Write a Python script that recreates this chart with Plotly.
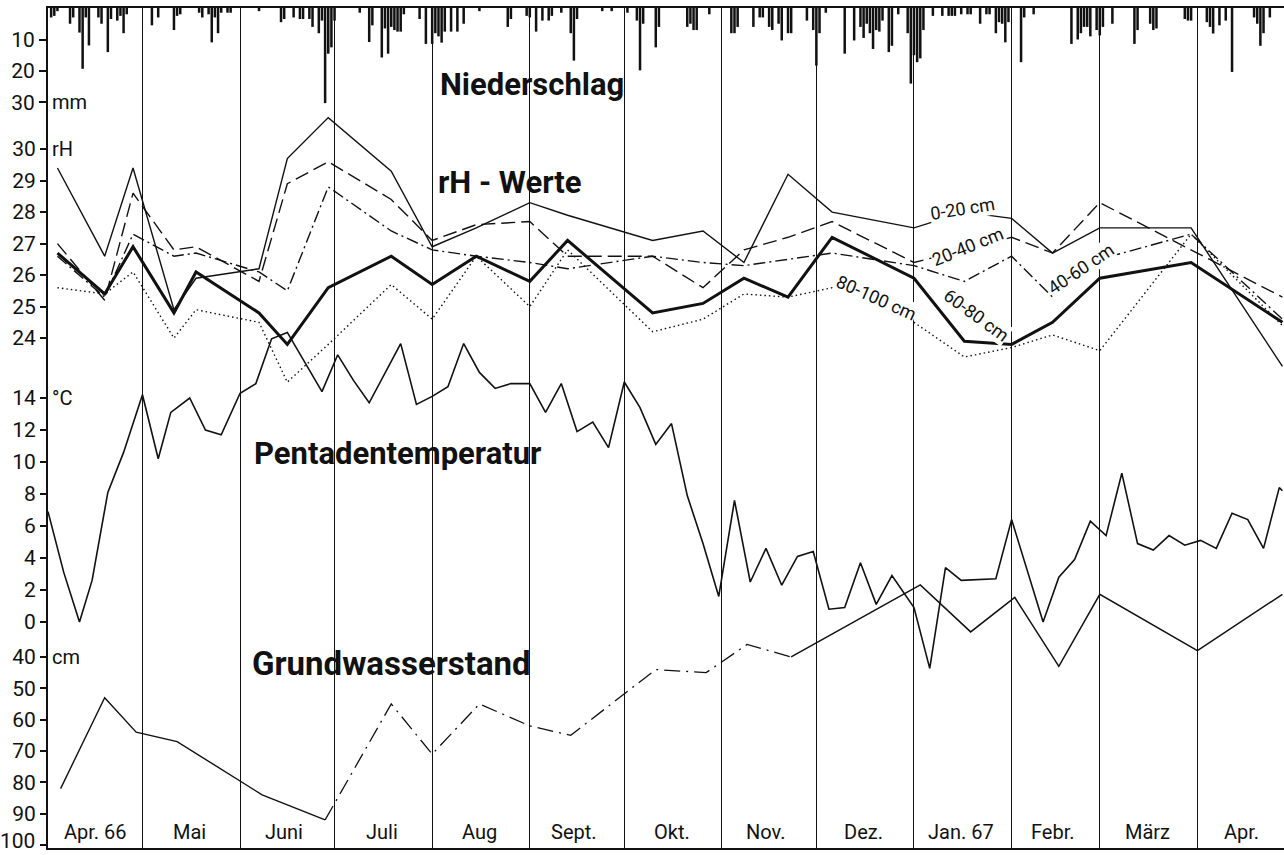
import pandas as pd
import plotly.graph_objects as go

START = pd.Timestamp("1966-04-01")

# Niederschlag: Tag (ab 1.4.1966) und Tagessumme in mm
rain_day = [1, 2, 3, 7, 8, 10, 11, 12, 13, 16, 17, 19, 20, 22, 23, 24, 25,
            33, 35, 40, 41, 42, 48, 49, 51, 52, 53, 54, 55, 57, 58,
            67, 74, 75, 78, 80, 81, 83, 84, 86, 87, 88, 89, 90, 91,
            99, 102, 103, 106, 107, 108, 109, 110, 111, 112, 113, 118, 120,
            122, 123, 124, 125, 126, 128, 130, 132, 137, 146, 147, 152, 153, 155, 157, 159, 160,
            163, 166, 167, 168, 176, 179, 184, 187, 188, 189, 193, 194,
            203, 204, 205, 206, 210, 217, 218, 219, 224, 226, 227, 229, 230, 232, 233, 235, 236,
            241, 243, 244, 245, 247, 253, 256,
            258, 259, 260, 261, 262, 263, 264, 265, 267, 268, 270, 273, 274, 275, 276, 277, 278,
            281, 284, 286, 287, 288, 290, 292, 293, 296, 298, 299, 301, 302, 303, 304, 305, 309, 310, 313,
            325, 327, 328, 329, 330, 331, 333, 334, 335,
            338, 345, 346, 350, 351, 352, 361, 362, 363, 368, 369, 370, 372, 374, 376,
            383, 384, 385, 386, 388]
rain_mm = [3, 2.5, 1, 5, 3, 7.8, 19.3, 3, 11.9, 3, 5, 14, 3.5, 4, 2.5, 8, 2,
           5.5, 3, 7, 2.5, 2, 1.5, 3, 2, 10.9, 3, 8, 1.5, 1.5, 1.5,
           1, 4.5, 3.5, 3, 3.5, 3.5, 3.5, 6, 8, 4, 30.2, 14.5, 12.5, 4,
           1.5, 10.8, 5.5, 15.7, 6.5, 14.5, 6, 7, 7.5, 7.5, 2, 3.5, 11.4,
           11.4, 8, 9, 11, 7.5, 7.5, 7.5, 5, 1, 6, 3.5, 2.5, 3, 7.5, 4, 4, 2.5,
           1.5, 8, 16.7, 3.5, 1, 1, 1.5, 4, 19.8, 5, 12.5, 6,
           6, 5, 7, 7, 2, 8, 8, 6, 6, 3, 3, 6, 7, 5, 10.3, 8, 8,
           4, 7, 18.3, 8, 1.5, 14.5, 10.3,
           6, 9.5, 5, 8, 13, 7, 7.5, 4, 14, 12, 2, 8, 24, 15, 17.2, 16, 7,
           2.5, 2.5, 2.5, 2.5, 2.5, 2, 2, 2, 5, 2, 2, 8, 4.5, 5, 10.9, 4.5, 17.2, 3, 2,
           11.4, 10, 8, 6, 6, 9, 7, 8.7, 6,
           5, 11.4, 7, 5, 7, 6.5, 3.5, 4, 4, 4.5, 6, 8.1, 5.5, 4, 20.3,
           3, 5, 12, 8, 3]
rain_dates = [START + pd.Timedelta(days=d) for d in rain_day]

# rH-Werte je Tiefenstufe
rh_dates = ["1966-04-04", "1966-04-19", "1966-04-28", "1966-05-11", "1966-05-18",
            "1966-06-07", "1966-06-16", "1966-06-29", "1966-07-19", "1966-08-01",
            "1966-08-15", "1966-09-01", "1966-09-13", "1966-10-10", "1966-10-26",
            "1966-11-08", "1966-11-22", "1966-12-06", "1967-01-01", "1967-01-17",
            "1967-02-01", "1967-02-14", "1967-03-01", "1967-03-30", "1967-04-28"]
rh_0_20 = [29.4, 26.6, 29.4, 24.9, 25.9, 26.2, 29.7, 31.0, 29.3, 26.9, 27.5, 28.3, 27.9,
           27.1, 27.4, 26.4, 29.2, 28.0, 27.5, 28.0, 27.8, 26.7, 27.5, 27.5, 23.1]
rh_20_40 = [27.0, 25.2, 28.6, 26.8, 26.9, 25.8, 28.9, 29.6, 28.4, 27.1, 27.6, 27.7, 26.6,
            26.6, 25.6, 26.8, 27.2, 27.7, 26.4, 26.8, 27.2, 26.7, 28.3, 26.8, 25.3]
rh_40_60 = [26.6, 25.3, 27.3, 26.6, 26.7, 26.1, 25.5, 28.8, 27.4, 26.8, 26.6, 26.4, 26.2,
            26.6, 26.4, 26.3, 26.5, 26.7, 26.3, 25.8, 26.6, 25.3, 26.5, 27.3, 24.6]
rh_60_80 = [26.7, 25.4, 26.9, 24.8, 26.1, 24.8, 23.8, 25.6, 26.6, 25.7, 26.6, 25.8, 27.1,
            24.8, 25.1, 25.9, 25.3, 27.2, 25.9, 23.9, 23.8, 24.5, 25.9, 26.4, 24.5]
rh_80_100 = [25.6, 25.4, 26.1, 24.0, 24.9, 24.5, 22.6, 23.8, 25.7, 24.6, 26.6, 25.0, 26.8,
             24.2, 24.6, 25.4, 25.3, 25.6, 24.5, 23.4, 23.7, 24.1, 23.6, 27.3, 24.4]

# Pentadentemperatur (°C)
temp_dates = ["1966-04-01", "1966-04-06", "1966-04-11", "1966-04-15", "1966-04-20", "1966-04-25",
              "1966-05-01", "1966-05-06", "1966-05-10", "1966-05-16", "1966-05-21", "1966-05-26",
              "1966-06-01", "1966-06-06", "1966-06-11", "1966-06-16", "1966-06-27",
              "1966-07-02", "1966-07-07", "1966-07-12", "1966-07-22", "1966-07-27",
              "1966-08-01", "1966-08-06", "1966-08-11", "1966-08-16", "1966-08-21", "1966-08-26",
              "1966-09-01", "1966-09-06", "1966-09-11", "1966-09-16", "1966-09-21", "1966-09-26",
              "1966-10-01", "1966-10-06", "1966-10-11", "1966-10-16", "1966-10-21", "1966-10-26",
              "1966-10-31", "1966-11-05", "1966-11-10", "1966-11-15", "1966-11-20", "1966-11-25",
              "1966-11-30", "1966-12-05", "1966-12-10", "1966-12-15", "1966-12-20", "1966-12-25",
              "1967-01-01", "1967-01-06", "1967-01-11", "1967-01-16", "1967-01-27",
              "1967-02-01", "1967-02-11", "1967-02-16", "1967-02-21", "1967-02-26",
              "1967-03-03", "1967-03-08", "1967-03-13", "1967-03-18", "1967-03-23", "1967-03-28",
              "1967-04-02", "1967-04-07", "1967-04-12", "1967-04-17", "1967-04-22", "1967-04-27",
              "1967-04-28"]
temp_c = [6.9, 3.1, 0.0, 2.6, 8.1, 10.6,
          14.2, 10.2, 13.1, 14.0, 12.0, 11.7,
          14.3, 14.9, 17.7, 18.1, 14.4,
          16.7, 15.1, 13.7, 17.4, 13.6,
          14.1, 14.7, 17.4, 15.6, 14.6, 14.9,
          14.9, 13.1, 14.9, 11.9, 12.5, 10.9,
          15.0, 13.4, 11.1, 12.4, 7.9, 4.9,
          1.6, 7.6, 2.5, 4.6, 2.3, 4.1,
          4.4, 0.8, 0.9, 3.7, 1.1, 2.9,
          0.9, -2.9, 3.4, 2.6, 2.7,
          6.4, 0.0, 2.8, 3.9, 6.3,
          5.4, 9.3, 4.9, 4.5, 5.4, 4.8,
          5.1, 4.6, 6.8, 6.4, 4.6, 8.4,
          8.2]

# Grundwasserstand (cm unter Flur)
gw_dates = ["1966-04-05", "1966-04-19", "1966-04-29", "1966-05-12", "1966-06-08", "1966-06-28",
            "1966-07-19", "1966-08-01", "1966-08-16", "1966-09-01", "1966-09-14", "1966-10-11",
            "1966-10-27", "1966-11-09", "1966-11-23", "1967-01-03", "1967-01-19", "1967-02-02",
            "1967-02-16", "1967-03-01", "1967-04-01", "1967-04-28"]
gw_cm = [82, 53, 64, 67, 84, 92,
         55, 71, 55, 62, 65, 44,
         45, 36, 40, 17, 32, 21,
         43, 20, 38, 20]
gw_ticks = [40, 50, 60, 70, 80, 90, 100]

month_labels = ["Apr. 66", "Mai", "Juni", "Juli", "Aug", "Sept.", "Okt.",
                "Nov.", "Dez.", "Jan. 67", "Febr.", "März", "Apr."]
month_mid = ["1966-04-16", "1966-05-16", "1966-06-15", "1966-07-16", "1966-08-16",
             "1966-09-15", "1966-10-16", "1966-11-15", "1966-12-16", "1967-01-16",
             "1967-02-14", "1967-03-16", "1967-04-15"]

INK = "#111111"
FONT = "Roboto"

fig = go.Figure()

fig.add_trace(go.Bar(x=rain_dates, y=rain_mm, yaxis="y", width=0.8 * 86400000,
                     marker=dict(color=INK, line=dict(width=0)), name="Niederschlag"))

rh_styles = [
    (rh_0_20, "0-20 cm", dict(width=1.4, dash="solid")),
    (rh_20_40, "20-40 cm", dict(width=1.4, dash="14px,6px")),
    (rh_40_60, "40-60 cm", dict(width=1.4, dash="12px,4px,2px,4px")),
    (rh_60_80, "60-80 cm", dict(width=3, dash="solid")),
    (rh_80_100, "80-100 cm", dict(width=1.4, dash="1.5px,3px")),
]
for vals, name, st in rh_styles:
    fig.add_trace(go.Scatter(x=rh_dates, y=vals, yaxis="y2", mode="lines", name=name,
                             line=dict(color=INK, **st)))

fig.add_trace(go.Scatter(x=temp_dates, y=temp_c, yaxis="y3", mode="lines",
                         name="Pentadentemperatur", line=dict(color=INK, width=1.6)))

fig.add_trace(go.Scatter(x=gw_dates[:6], y=gw_cm[:6], yaxis="y4", mode="lines",
                         line=dict(color=INK, width=1.4)))
fig.add_trace(go.Scatter(x=gw_dates[5:15], y=gw_cm[5:15], yaxis="y4", mode="lines",
                         line=dict(color=INK, width=1.3, dash="16px,6px,2px,6px")))
fig.add_trace(go.Scatter(x=gw_dates[14:], y=gw_cm[14:], yaxis="y4", mode="lines",
                         line=dict(color=INK, width=1.5)))

tick_font = dict(family=FONT, size=21, color=INK)
common_y = dict(showgrid=False, zeroline=False, ticks="outside", ticklen=7, tickwidth=1.5,
                tickcolor=INK, tickfont=tick_font, tickmode="array", anchor="x", side="left",
                automargin=False, ticklabeloverflow="allow")

fig.update_layout(
    width=1284, height=855,
    margin=dict(l=48, r=0, t=8, b=7, autoexpand=False),
    paper_bgcolor="white", plot_bgcolor="white",
    showlegend=False,
    xaxis=dict(type="date", range=["1966-04-01", "1967-04-28 12:00"],
               tick0="1966-04-01", dtick="M1", showticklabels=False, ticks="",
               showgrid=True, gridcolor=INK, gridwidth=1.3, automargin=False,
               showline=True, mirror=True, linecolor=INK, linewidth=1.8, zeroline=False),
    yaxis=dict(range=[266.7, 0], tickvals=[10, 20, 30], showline=True,
               linecolor=INK, linewidth=1.8, **common_y),
    yaxis2=dict(range=[7.81, 34.48], tickvals=[24, 25, 26, 27, 28, 29, 30],
                overlaying="y", **common_y),
    yaxis3=dict(range=[-14.125, 38.375], tickvals=list(range(0, 15, 2)),
                overlaying="y", **common_y),
    # the lowest label (100) sits on the page edge, it is drawn as an annotation a bit higher
    yaxis4=dict(range=[100.96, -167.1], tickvals=gw_ticks,
                ticktext=[str(t) for t in gw_ticks[:-1]] + [""],
                overlaying="y", **common_y),
)

ann = []
for lab, xm in zip(month_labels, month_mid):
    ann.append(dict(x=xm, y=0.019, xref="x", yref="paper", text=lab, showarrow=False,
                    xanchor="center", yanchor="middle",
                    font=dict(family=FONT, size=20, color=INK)))

ann.append(dict(x=-0.0085, y=gw_ticks[-1], xref="paper", yref="y4", yshift=4,
                text=str(gw_ticks[-1]), showarrow=False, xanchor="right", yanchor="middle",
                font=tick_font))

for txt, yref, yv in [("mm", "y", 30), ("rH", "y2", 30), ("°C", "y3", 14), ("cm", "y4", 40)]:
    ann.append(dict(x=0.002, y=yv, xref="paper", yref=yref, text=txt, showarrow=False,
                    xanchor="left", yanchor="middle",
                    font=dict(family=FONT, size=20, color=INK)))

for txt, xp, yp, fs in [("Niederschlag", 0.3916, 0.909, 31), ("rH - Werte", 0.3738, 0.792, 31),
                        ("Pentadentemperatur", 0.2824, 0.470, 31),
                        ("Grundwasserstand", 0.278, 0.220, 33)]:
    ann.append(dict(x=xp, y=yp, xref="paper", yref="paper", text=f"<b>{txt}</b>",
                    showarrow=False, xanchor="center", yanchor="middle",
                    font=dict(family=FONT, size=fs, color=INK)))

for txt, xd, yv, ang in [("0-20 cm", "1967-01-16 07:00", 28.13, -9),
                         ("20-40 cm", "1967-01-18", 26.92, -22),
                         ("40-60 cm", "1967-02-23", 26.22, -34),
                         ("60-80 cm", "1967-01-21", 24.73, 36),
                         ("80-100 cm", "1966-12-20", 25.30, 24)]:
    ann.append(dict(x=xd, y=yv, xref="x", yref="y2", text=txt, textangle=ang,
                    showarrow=False, bgcolor="white", borderpad=0,
                    xanchor="center", yanchor="middle",
                    font=dict(family=FONT, size=18, color=INK)))

fig.update_layout(annotations=ann)

# the page body has a default 8 px margin; remove it so the figure fills the window
fig.write_html("out.html", config={"displayModeBar": False},
               post_script="document.body.style.margin = '0';")
